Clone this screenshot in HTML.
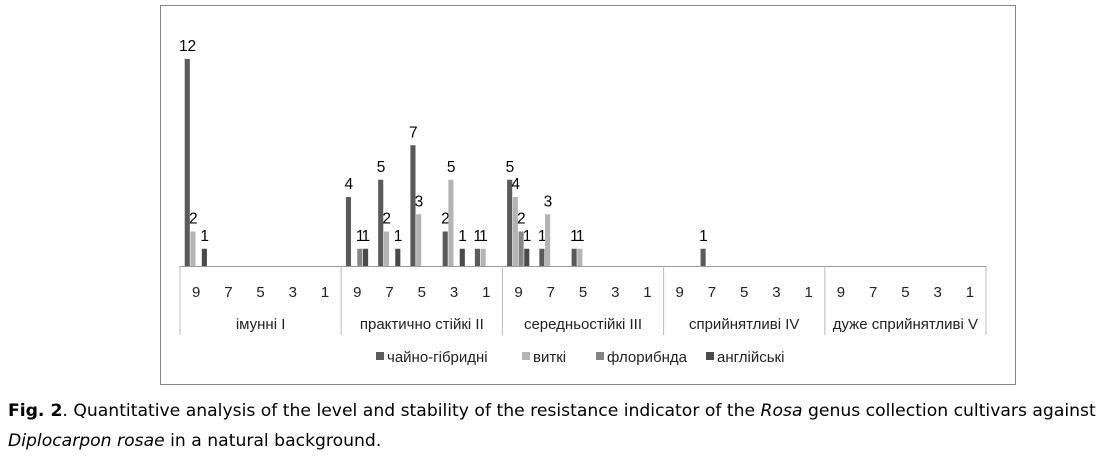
<!DOCTYPE html>
<html><head><meta charset="utf-8"><style>
body{margin:0;background:#fff;width:1104px;height:460px;overflow:hidden;position:relative}
#cap{position:absolute;left:8px;top:396px;font-family:"DejaVu Sans",Verdana,sans-serif;font-size:17.2px;color:#000;line-height:30px;white-space:nowrap}
</style></head><body>
<svg id="chart" width="1104" height="390" style="position:absolute;left:0;top:0" font-family="Liberation Sans, sans-serif"></svg>
<div id="cap"><b>Fig. 2</b>. Quantitative analysis of the level and stability of the resistance indicator of the <i>Rosa</i> genus collection cultivars against<br><i>Diplocarpon rosae</i> in a natural background.</div>
<script>
const groups=["імунні I","практично стійкі II","середньостійкі III","сприйнятливі IV","дуже сприйнятливі V"];
const subcats=["9","7","5","3","1"];
const seriesNames=["чайно-гібридні","виткі","флорибнда","англійські"];
const chaino=[12,0,0,0,0, 4,5,7,2,1, 5,1,1,0,0, 0,1,0,0,0, 0,0,0,0,0];
const vitki=[2,0,0,0,0, 0,2,3,5,1, 4,3,1,0,0, 0,0,0,0,0, 0,0,0,0,0];
const floribunda=[0,0,0,0,0, 1,0,0,0,0, 2,0,0,0,0, 0,0,0,0,0, 0,0,0,0,0];
const english=[1,0,0,0,0, 1,1,0,1,0, 1,0,0,0,0, 0,0,0,0,0, 0,0,0,0,0];
const series=[chaino,vitki,floribunda,english];
const colors=["#5a5a5a","#b4b4b4","#858585","#4a4a4a"];
const NS="http://www.w3.org/2000/svg";
const svg=document.getElementById('chart');
function mk(t,a,p){const e=document.createElementNS(NS,t);for(const k in a)e.setAttribute(k,a[k]);(p||svg).appendChild(e);return e;}
const x0=180,x1=986,base=266,unit=17.25;
const nc=groups.length*subcats.length;
const cw=(x1-x0)/nc;
const bw=5.7;
const xs=i=>x0+i*cw;
const ys=v=>base-v*unit;
const frame=mk('rect',{x:160.5,y:5.5,width:855,height:379,fill:'none',stroke:'#888'});


series.forEach((s,si)=>{
  s.forEach((v,i)=>{
    if(!v)return;
    const bx=xs(i)+cw/2-2*bw+si*bw;
    const r=mk('rect',{x:bx,y:ys(v),width:bw-0.6,height:v*unit,fill:colors[si]});
    
    
    const t=mk('text',{x:bx+bw/2,y:ys(v)-8,'text-anchor':'middle','font-size':15.5,fill:'#000'});
    t.textContent=v;
    
    
  });
});
const ax=mk('line',{x1:x0,y1:base+0.5,x2:x1,y2:base+0.5,stroke:'#999'});


for(let g=0;g<=groups.length;g++){
  const l=mk('line',{x1:x0+g*5*cw,y1:base,x2:x0+g*5*cw,y2:335,stroke:'#bbb'});
  
  
}
for(let i=0;i<nc;i++){
  const t=mk('text',{x:xs(i)+cw/2,y:297,'text-anchor':'middle','font-size':15,fill:'#222'});
  t.textContent=subcats[i%5];
  
  
}
groups.forEach((g,gi)=>{
  const t=mk('text',{x:x0+(gi+0.5)*5*cw,y:329,'text-anchor':'middle','font-size':15,fill:'#222'});
  t.textContent=g;
  
  
});
const legX=[376,522,596,706];
seriesNames.forEach((n,si)=>{
  const r=mk('rect',{x:legX[si],y:352,width:8,height:8,fill:colors[si]});
  
  
  const t=mk('text',{x:legX[si]+11,y:362,'font-size':15,fill:'#222'});
  t.textContent=n;
  
  
});
</script>
</body></html>
